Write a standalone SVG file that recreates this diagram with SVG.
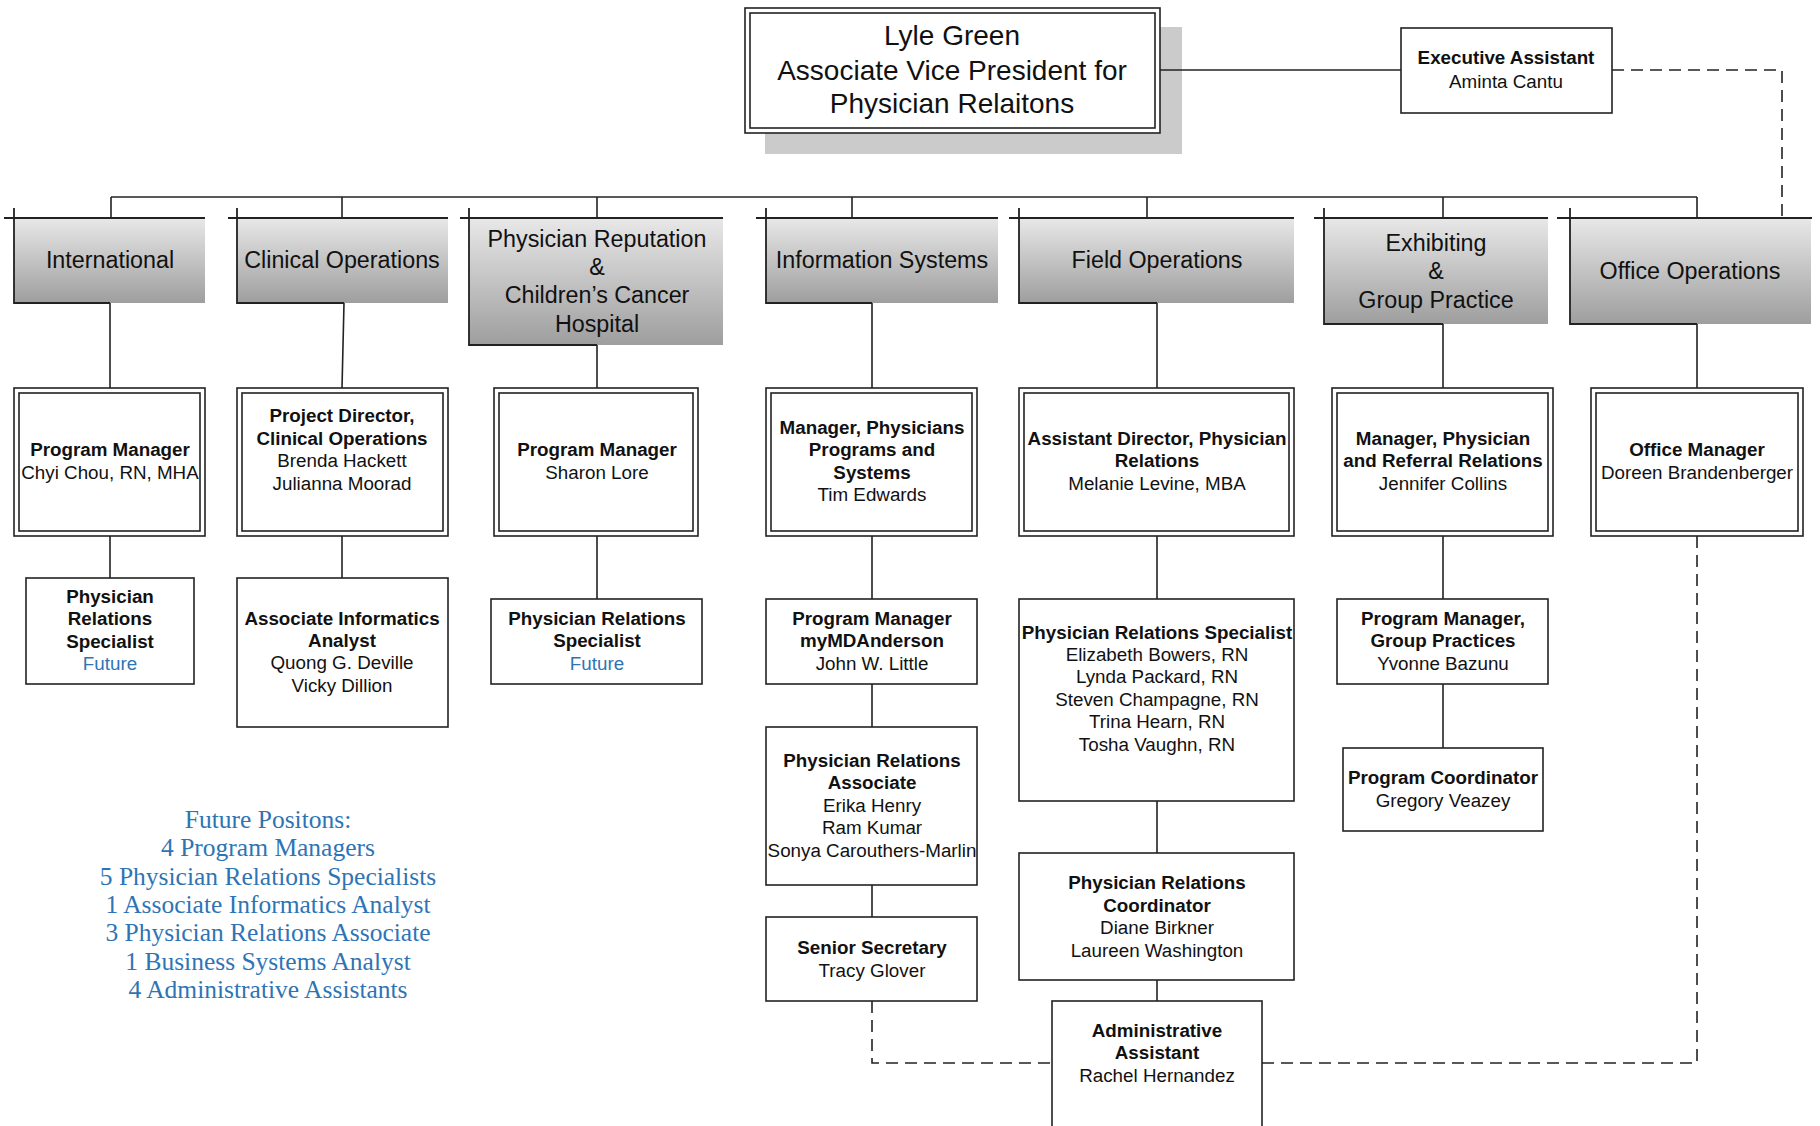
<svg xmlns="http://www.w3.org/2000/svg" width="1820" height="1126" viewBox="0 0 1820 1126">
<defs>
<linearGradient id="dg" x1="0" y1="0" x2="0" y2="1">
<stop offset="0" stop-color="#e8e8e8"/>
<stop offset="1" stop-color="#9e9e9e"/>
</linearGradient>
<style>
.t{font-family:"Liberation Sans",Arial,sans-serif;font-size:18.8px;fill:#111;text-anchor:middle}
.b{font-weight:bold}
.fu{fill:#2e74b5}
.dt{font-family:"Liberation Sans",Arial,sans-serif;font-size:23.3px;fill:#111;text-anchor:middle}
.top{font-family:"Liberation Sans",Arial,sans-serif;font-size:28px;fill:#111;text-anchor:middle}
.fp{font-family:"Liberation Serif","Times New Roman",serif;font-size:25.5px;fill:#2e74b5;text-anchor:middle}
.box{fill:#fff;stroke:#222;stroke-width:1.6}
.dbl{fill:none;stroke:#222;stroke-width:1.6}
.dept{fill:url(#dg);stroke:none}
.edge{fill:none;stroke:#222;stroke-width:1.8}
.ln{fill:none;stroke:#222;stroke-width:1.6}
.dash{fill:none;stroke:#222;stroke-width:1.6;stroke-dasharray:12 7}
</style>
</defs>
<rect width="1820" height="1126" fill="#fff"/>

<g id="avp">
<rect x="765" y="27" width="417" height="127" fill="#cbcbcb"/>
<rect x="745" y="8" width="415" height="125" fill="#fff" stroke="#222" stroke-width="1.6"/>
<rect x="750" y="13" width="405" height="115" class="dbl"/>
<text class="top" x="952" y="45">Lyle Green</text>
<text class="top" x="952" y="80">Associate Vice President for</text>
<text class="top" x="952" y="113">Physician Relaitons</text>
</g>

<g id="exec">
<rect class="box" x="1401" y="28" width="211" height="85"/>
<text class="t b" x="1506" y="64">Executive Assistant</text>
<text class="t" x="1506" y="88">Aminta Cantu</text>
</g>

<g id="dept-international">
<rect class="dept" x="14" y="218" width="191" height="85"/>
<path class="edge" d="M4 218H205M14 208V303H110"/>
<text class="dt" x="110" y="268">International</text>
</g>
<g id="dept-clinical">
<rect class="dept" x="237" y="218" width="211" height="85"/>
<path class="edge" d="M228 218H448M237 208V303H344"/>
<text class="dt" x="342" y="268">Clinical Operations</text>
</g>
<g id="dept-reputation">
<rect class="dept" x="469" y="218" width="254" height="127"/>
<path class="edge" d="M460 218H723M469 208V345H597"/>
<text class="dt" x="597" y="247">Physician Reputation</text>
<text class="dt" x="597" y="275">&amp;</text>
<text class="dt" x="597" y="303">Children’s Cancer</text>
<text class="dt" x="597" y="332">Hospital</text>
</g>
<g id="dept-infosys">
<rect class="dept" x="766" y="218" width="232" height="85"/>
<path class="edge" d="M756 218H998M766 208V303H872"/>
<text class="dt" x="882" y="268">Information Systems</text>
</g>
<g id="dept-field">
<rect class="dept" x="1019" y="218" width="275" height="85"/>
<path class="edge" d="M1009 218H1294M1019 208V303H1157"/>
<text class="dt" x="1157" y="268">Field Operations</text>
</g>
<g id="dept-exhibiting">
<rect class="dept" x="1324" y="218" width="224" height="106"/>
<path class="edge" d="M1314 218H1548M1324 208V324H1443"/>
<text class="dt" x="1436" y="251">Exhibiting</text>
<text class="dt" x="1436" y="279">&amp;</text>
<text class="dt" x="1436" y="308">Group Practice</text>
</g>
<g id="dept-office">
<rect class="dept" x="1570" y="218" width="241" height="106"/>
<path class="edge" d="M1557 218H1812M1570 208V324H1697"/>
<text class="dt" x="1690" y="279">Office Operations</text>
</g>

<g id="pm-chou">
<rect class="box" x="14" y="388" width="191" height="148"/>
<rect class="dbl" x="19" y="393" width="181" height="138"/>
<text class="t b" x="110" y="456">Program Manager</text>
<text class="t" x="110" y="479">Chyi Chou, RN, MHA</text>
</g>
<g id="pd-clinical">
<rect class="box" x="237" y="388" width="211" height="148"/>
<rect class="dbl" x="242" y="393" width="201" height="138"/>
<text class="t b" x="342" y="422">Project Director,</text>
<text class="t b" x="342" y="445">Clinical Operations</text>
<text class="t" x="342" y="467">Brenda Hackett</text>
<text class="t" x="342" y="490">Julianna Moorad</text>
</g>
<g id="pm-lore">
<rect class="box" x="494" y="388" width="204" height="148"/>
<rect class="dbl" x="499" y="393" width="194" height="138"/>
<text class="t b" x="597" y="456">Program Manager</text>
<text class="t" x="597" y="479">Sharon Lore</text>
</g>
<g id="mgr-edwards">
<rect class="box" x="766" y="388" width="211" height="148"/>
<rect class="dbl" x="771" y="393" width="201" height="138"/>
<text class="t b" x="872" y="434">Manager, Physicians</text>
<text class="t b" x="872" y="456">Programs and</text>
<text class="t b" x="872" y="479">Systems</text>
<text class="t" x="872" y="501">Tim Edwards</text>
</g>
<g id="ad-levine">
<rect class="box" x="1019" y="388" width="275" height="148"/>
<rect class="dbl" x="1024" y="393" width="265" height="138"/>
<text class="t b" x="1157" y="445">Assistant Director, Physician</text>
<text class="t b" x="1157" y="467">Relations</text>
<text class="t" x="1157" y="490">Melanie Levine, MBA</text>
</g>
<g id="mgr-collins">
<rect class="box" x="1332" y="388" width="221" height="148"/>
<rect class="dbl" x="1337" y="393" width="211" height="138"/>
<text class="t b" x="1443" y="445">Manager, Physician</text>
<text class="t b" x="1443" y="467">and Referral Relations</text>
<text class="t" x="1443" y="490">Jennifer Collins</text>
</g>
<g id="om-brandenberger">
<rect class="box" x="1591" y="388" width="212" height="148"/>
<rect class="dbl" x="1596" y="393" width="202" height="138"/>
<text class="t b" x="1697" y="456">Office Manager</text>
<text class="t" x="1697" y="479">Doreen Brandenberger</text>
</g>

<g id="prs-intl">
<rect class="box" x="26" y="578" width="168" height="106"/>
<text class="t b" x="110" y="603">Physician</text>
<text class="t b" x="110" y="625">Relations</text>
<text class="t b" x="110" y="648">Specialist</text>
<text class="t fu" x="110" y="670">Future</text>
</g>
<g id="aia">
<rect class="box" x="237" y="578" width="211" height="149"/>
<text class="t b" x="342" y="625">Associate Informatics</text>
<text class="t b" x="342" y="647">Analyst</text>
<text class="t" x="342" y="669">Quong G. Deville</text>
<text class="t" x="342" y="692">Vicky Dillion</text>
</g>
<g id="prs-rep">
<rect class="box" x="491" y="599" width="211" height="85"/>
<text class="t b" x="597" y="625">Physician Relations</text>
<text class="t b" x="597" y="647">Specialist</text>
<text class="t fu" x="597" y="670">Future</text>
</g>
<g id="pm-little">
<rect class="box" x="766" y="599" width="211" height="85"/>
<text class="t b" x="872" y="625">Program Manager</text>
<text class="t b" x="872" y="647">myMDAnderson</text>
<text class="t" x="872" y="670">John W. Little</text>
</g>
<g id="pra">
<rect class="box" x="766" y="727" width="211" height="158"/>
<text class="t b" x="872" y="767">Physician Relations</text>
<text class="t b" x="872" y="789">Associate</text>
<text class="t" x="872" y="812">Erika Henry</text>
<text class="t" x="872" y="834">Ram Kumar</text>
<text class="t" x="872" y="857">Sonya Carouthers-Marlin</text>
</g>
<g id="secretary">
<rect class="box" x="766" y="917" width="211" height="84"/>
<text class="t b" x="872" y="954">Senior Secretary</text>
<text class="t" x="872" y="977">Tracy Glover</text>
</g>
<g id="prs-field">
<rect class="box" x="1019" y="599" width="275" height="202"/>
<text class="t b" x="1157" y="639">Physician Relations Specialist</text>
<text class="t" x="1157" y="661">Elizabeth Bowers, RN</text>
<text class="t" x="1157" y="683">Lynda Packard, RN</text>
<text class="t" x="1157" y="706">Steven Champagne, RN</text>
<text class="t" x="1157" y="728">Trina Hearn, RN</text>
<text class="t" x="1157" y="751">Tosha Vaughn, RN</text>
</g>
<g id="prc">
<rect class="box" x="1019" y="853" width="275" height="127"/>
<text class="t b" x="1157" y="889">Physician Relations</text>
<text class="t b" x="1157" y="912">Coordinator</text>
<text class="t" x="1157" y="934">Diane Birkner</text>
<text class="t" x="1157" y="957">Laureen Washington</text>
</g>
<g id="admin">
<rect class="box" x="1052" y="1001" width="210" height="140"/>
<text class="t b" x="1157" y="1037">Administrative</text>
<text class="t b" x="1157" y="1059">Assistant</text>
<text class="t" x="1157" y="1082">Rachel Hernandez</text>
</g>
<g id="pm-bazunu">
<rect class="box" x="1337" y="599" width="211" height="85"/>
<text class="t b" x="1443" y="625">Program Manager,</text>
<text class="t b" x="1443" y="647">Group Practices</text>
<text class="t" x="1443" y="670">Yvonne Bazunu</text>
</g>
<g id="pc-veazey">
<rect class="box" x="1343" y="748" width="200" height="83"/>
<text class="t b" x="1443" y="784">Program Coordinator</text>
<text class="t" x="1443" y="807">Gregory Veazey</text>
</g>

<g id="future-positions">
<text class="fp" x="268" y="828">Future Positons:</text>
<text class="fp" x="268" y="856">4 Program Managers</text>
<text class="fp" x="268" y="885">5 Physician Relations Specialists</text>
<text class="fp" x="268" y="913">1 Associate Informatics Analyst</text>
<text class="fp" x="268" y="941">3 Physician Relations Associate</text>
<text class="fp" x="268" y="970">1 Business Systems Analyst</text>
<text class="fp" x="268" y="998">4 Administrative Assistants</text>
</g>

<g id="connectors">
<path class="ln" d="M1160 70H1401"/>
<path class="dash" d="M1612 70H1782V218"/>
<path class="ln" d="M111 197H1697"/>
<path class="ln" d="M111 197V218M342 197V218M597 197V218M852 197V218M1147 197V218M1443 197V218M1697 197V218"/>
<path class="ln" d="M110 303V388M344 303L342 388M597 345V388M872 303V388M1157 303V388M1443 324V388M1697 324V388"/>
<path class="ln" d="M110 536V578M342 536V578M597 536V599M872 536V599M1157 536V599M1443 536V599"/>
<path class="ln" d="M872 684V727M872 885V917M1157 801V853M1157 980V1001M1443 684V748"/>
<path class="dash" d="M872 1001V1063H1052"/>
<path class="dash" d="M1697 536V1063H1262"/>
</g>
</svg>
